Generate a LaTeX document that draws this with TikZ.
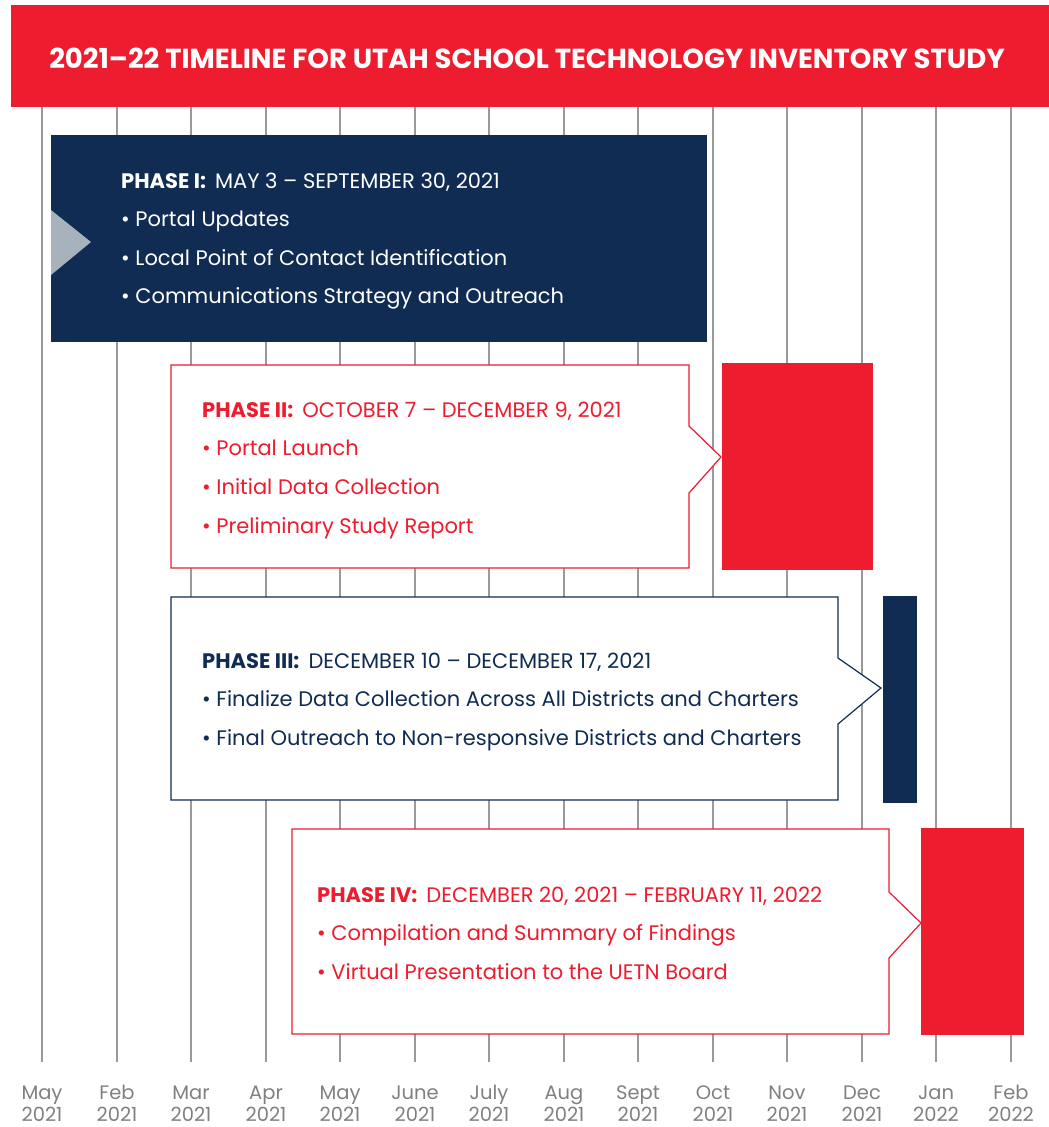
\documentclass[tikz,border=0pt]{standalone}
\usepackage{fontspec}
\setmainfont{Poppins}
\definecolor{ured}{HTML}{ED1C2E}
\definecolor{unavy}{HTML}{102C52}
\definecolor{ugray}{HTML}{A8B2BD}
\definecolor{gridc}{HTML}{9A9A9A}
\definecolor{labc}{HTML}{808080}
\newcommand{\bul}{•\ }
\tikzset{
  gridline/.style={draw=gridc, line width=1.2pt},
  txt/.style={anchor=base west, inner sep=0pt, yshift=-7.5pt, font=\fontsize{21}{21}\selectfont},
  monthlab/.style={align=center, text=labc, inner sep=0pt, font=\fontsize{19.5}{22}\selectfont},
  notchbox/.style={fill=white, line width=1.2pt, line join=miter},
}
\begin{document}
\begin{tikzpicture}[x=1pt,y=-1pt]
\useasboundingbox (0,0) rectangle (1049,1127);
% grid
\foreach \x/\m/\yr [count=\i] in {42/May/2021,117/Feb/2021,191/Mar/2021,266/Apr/2021,340/May/2021,415/June/2021,489/July/2021,564/Aug/2021,638/Sept/2021,713/Oct/2021,787/Nov/2021,862/Dec/2021,936/Jan/2022,1011/Feb/2022}{
  \draw[gridline] (\x,107) -- (\x,1062);
  \node[monthlab] (m\i) at (\x,1106) {\strut\m\\\strut\yr};
}
% title
\fill[ured] (11,5) rectangle (1049,107);
\node[text=white, inner sep=0pt, font=\fontsize{27.5}{27.5}\selectfont\bfseries] (title) at (527,58) {2021–22 TIMELINE FOR UTAH SCHOOL TECHNOLOGY INVENTORY STUDY};
% phase I
\fill[unavy] (51,135) rectangle (707,342);
\fill[ugray] (51,210) -- (91,242) -- (51,275) -- cycle;
\node[txt, text=white] (p1t) at (121,181) {\textbf{PHASE I:}\, MAY 3 – SEPTEMBER 30, 2021};
\node[txt, text=white] (p1a) at (121,219) {\bul Portal Updates};
\node[txt, text=white] (p1b) at (121,258) {\bul Local Point of Contact Identification};
\node[txt, text=white] (p1c) at (121,296) {\bul Communications Strategy and Outreach};
% phase II
\draw[notchbox, draw=ured] (171,365) -- (689,365) -- (689,426) -- (721,457) -- (689,493) -- (689,568) -- (171,568) -- cycle;
\fill[ured] (722,363) rectangle (873,570);
\node[txt, text=ured] (p2t) at (202,410) {\textbf{PHASE II:}\, OCTOBER 7 – DECEMBER 9, 2021};
\node[txt, text=ured] (p2a) at (202,448) {\bul Portal Launch};
\node[txt, text=ured] (p2b) at (202,487) {\bul Initial Data Collection};
\node[txt, text=ured] (p2c) at (202,526) {\bul Preliminary Study Report};
% phase III
\draw[notchbox, draw=unavy] (171,597) -- (838,597) -- (838,658) -- (881,688) -- (838,724) -- (838,800) -- (171,800) -- cycle;
\fill[unavy] (883,596) rectangle (917,803);
\node[txt, text=unavy] (p3t) at (202,661) {\textbf{PHASE III:}\, DECEMBER 10 – DECEMBER 17, 2021};
\node[txt, text=unavy] (p3a) at (202,699) {\bul Finalize Data Collection Across All Districts and Charters};
\node[txt, text=unavy] (p3b) at (202,738) {\bul Final Outreach to Non-responsive Districts and Charters};
% phase IV
\draw[notchbox, draw=ured] (292,829) -- (889,829) -- (889,892) -- (921,923) -- (889,958) -- (889,1034) -- (292,1034) -- cycle;
\fill[ured] (921,828) rectangle (1024,1035);
\node[txt, text=ured] (p4t) at (317,895) {\textbf{PHASE IV:}\, DECEMBER 20, 2021 – FEBRUARY 11, 2022};
\node[txt, text=ured] (p4a) at (317,933) {\bul Compilation and Summary of Findings};
\node[txt, text=ured] (p4b) at (317,972) {\bul Virtual Presentation to the UETN Board};
\end{tikzpicture}
\end{document}
